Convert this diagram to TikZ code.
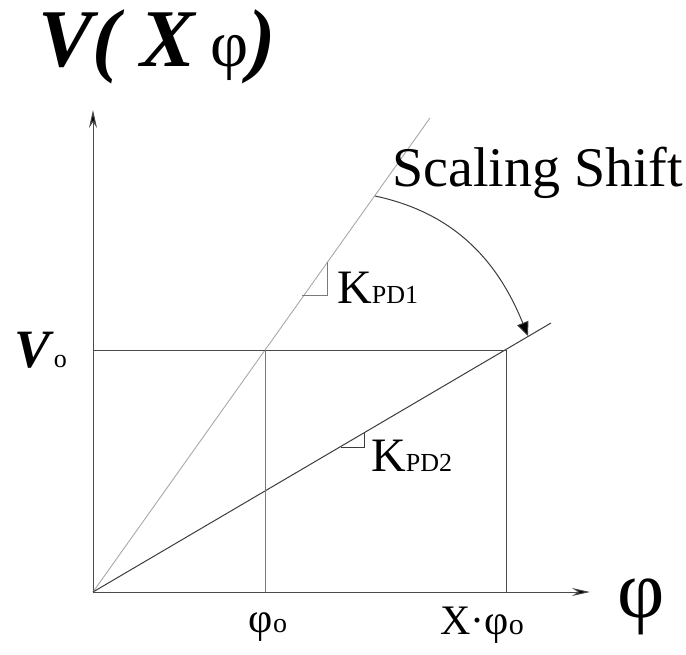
\documentclass[tikz,border=0pt]{standalone}
\usepackage{fontspec}
\setmainfont{Liberation Serif}
\usetikzlibrary{arrows.meta, positioning}
\definecolor{axisgray}{HTML}{4A4A4A}
\definecolor{steepgray}{HTML}{A8A8A8}
\definecolor{shallowgray}{HTML}{3C3C3C}
\definecolor{guidegray}{HTML}{7A7A7A}

\begin{document}
\begin{tikzpicture}[x=1pt, y=-1pt, every node/.style={inner sep=0pt},
    axis/.style={axisgray, line width=1pt, -{Stealth[length=18pt, width=8pt, fill=black]}},
    guide/.style={guidegray, line width=0.9pt}]
        \useasboundingbox (0,0) rectangle (686,655);
        % axes
        \coordinate (o) at (93,592);
        \coordinate (ytop) at (93,110);
        \coordinate (xend) at (590,592);
        \draw [axis] (o) -- (ytop);
        \draw [axis] (o) -- (xend);
        % working points
        \coordinate (v0) at (93,350);
        \coordinate (p1) at (265,350);
        \coordinate (p2) at (506,350);
        \coordinate (q1) at (265,592);
        \coordinate (q2) at (506,592);
        \coordinate (s1) at (430,118);
        \coordinate (s2) at (551,323);
        \draw [steepgray, line width=0.9pt] (o) -- (s1);
        \draw [shallowgray, line width=1pt] (o) -- (s2);
        \draw [guide, axisgray] (v0) -- (p2);
        \draw [guide] (p1) -- (q1);
        \draw [guide, axisgray] (p2) -- (q2);
        % slope marks
        \draw [guidegray, line width=1pt] (302,296) -- (327,296) -- (327,262);
        \draw [shallowgray, line width=1pt] (341,447) -- (364,447) -- (364,433);
        % scaling shift arc
        \coordinate (a1) at (375,196);
        \coordinate (a2) at (528,336);
        \draw [shallowgray, line width=1pt, -{Triangle[length=14pt, width=12pt, fill=black]}] (a1) to[out=-12, in=112] (a2);
        % labels
        \node (title) [anchor=base west, font=\fontsize{82}{82}\selectfont] at (38,67) {\textbf{\textit{V( X}}\,{\fontsize{66}{66}\selectfont φ}\textbf{\textit{)}}};
        \node (vlab) [anchor=base west, font=\fontsize{54}{54}\selectfont] at (14,367) {\textbf{\textit{V}}{\fontsize{26}{26}\selectfont o}};
        \node (shift) [anchor=base west, font=\fontsize{56}{56}\selectfont] at (392,187) {Scaling Shift};
        \node (k1) [anchor=base west, font=\fontsize{48}{48}\selectfont] at (337,304) {K{\fontsize{26}{26}\selectfont PD1}};
        \node (k2) [anchor=base west, font=\fontsize{48}{48}\selectfont] at (371,471) {K{\fontsize{26}{26}\selectfont PD2}};
        \node (phi0) [anchor=base, font=\fontsize{42}{42}\selectfont] at (268,632) {φ{\fontsize{28}{28}\selectfont o}};
        \node (xphi0) [anchor=base west, font=\fontsize{42}{42}\selectfont] at (440,634) {X·φ{\fontsize{30}{30}\selectfont o}};
        \node (phi) [anchor=base, font=\fontsize{82}{82}\selectfont] at (641,617) {φ};
\end{tikzpicture}
\end{document}
